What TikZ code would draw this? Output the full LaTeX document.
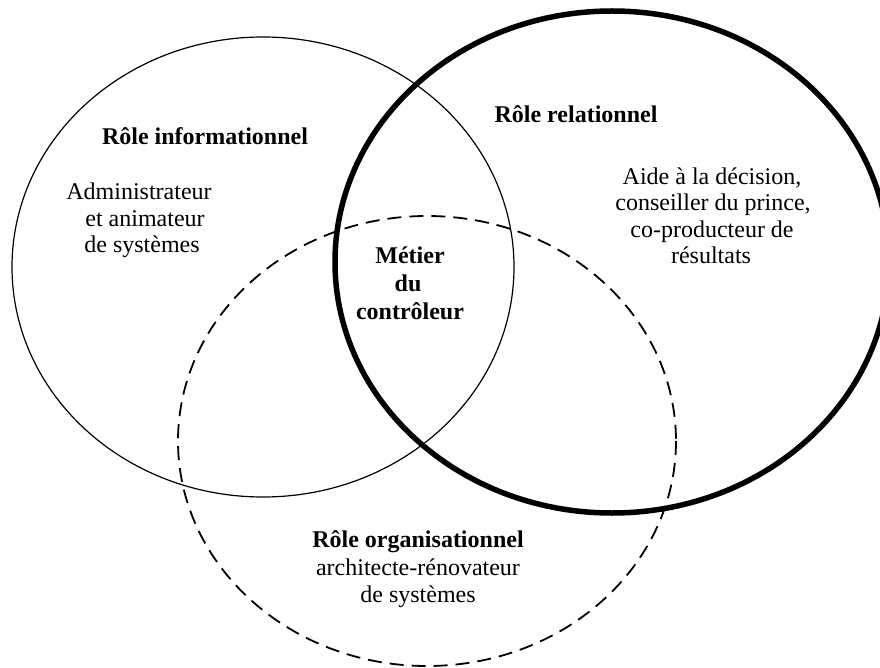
\documentclass[tikz,border=0pt]{standalone}
\usepackage{fontspec}
\setmainfont{Liberation Serif}
\begin{document}
\begin{tikzpicture}[x=1pt,y=-1pt,
  txt/.style={anchor=base,inner sep=0pt,font=\fontsize{24}{26}\selectfont},
  bold/.style={txt,font=\fontsize{24}{26}\selectfont\bfseries},
  thinring/.style={draw=black,line width=1.2pt},
  thickring/.style={draw=black,line width=5.5pt},
  dashring/.style={draw=black,line width=1.8pt,dash pattern=on 14pt off 8pt}]
\useasboundingbox (0,0) rectangle (880,668);
\clip (0,0) rectangle (880,668);

% the three roles
\draw[thinring]  (263,267) ellipse [x radius=251, y radius=230];
\draw[thickring] (612,262) ellipse [x radius=277, y radius=251];
\draw[dashring]  (427,441) ellipse [x radius=249, y radius=225];

% informational role
\node[bold] (info)  at (205,145) {Rôle informationnel};
\node[txt]  (info1) at (139,200) {Administrateur};
\node[txt]  (info2) at (145,227) {et animateur};
\node[txt]  (info3) at (142,253) {de systèmes};

% relational role
\node[bold] (rel)  at (576,123) {Rôle relationnel};
\node[txt]  (rel1) at (712,185) {Aide à la décision,};
\node[txt]  (rel2) at (713,211) {conseiller du prince,};
\node[txt]  (rel3) at (712,237) {co-producteur de};
\node[txt]  (rel4) at (711,263) {résultats};

% core of the job
\node[bold] (core1) at (410,263) {Métier};
\node[bold] (core2) at (408,291) {du};
\node[bold] (core3) at (410,319) {contrôleur};

% organisational role
\node[bold] (org)  at (418,547) {Rôle organisationnel};
\node[txt]  (org1) at (418,575) {architecte-rénovateur};
\node[txt]  (org2) at (418,602) {de systèmes};
\end{tikzpicture}
\end{document}
